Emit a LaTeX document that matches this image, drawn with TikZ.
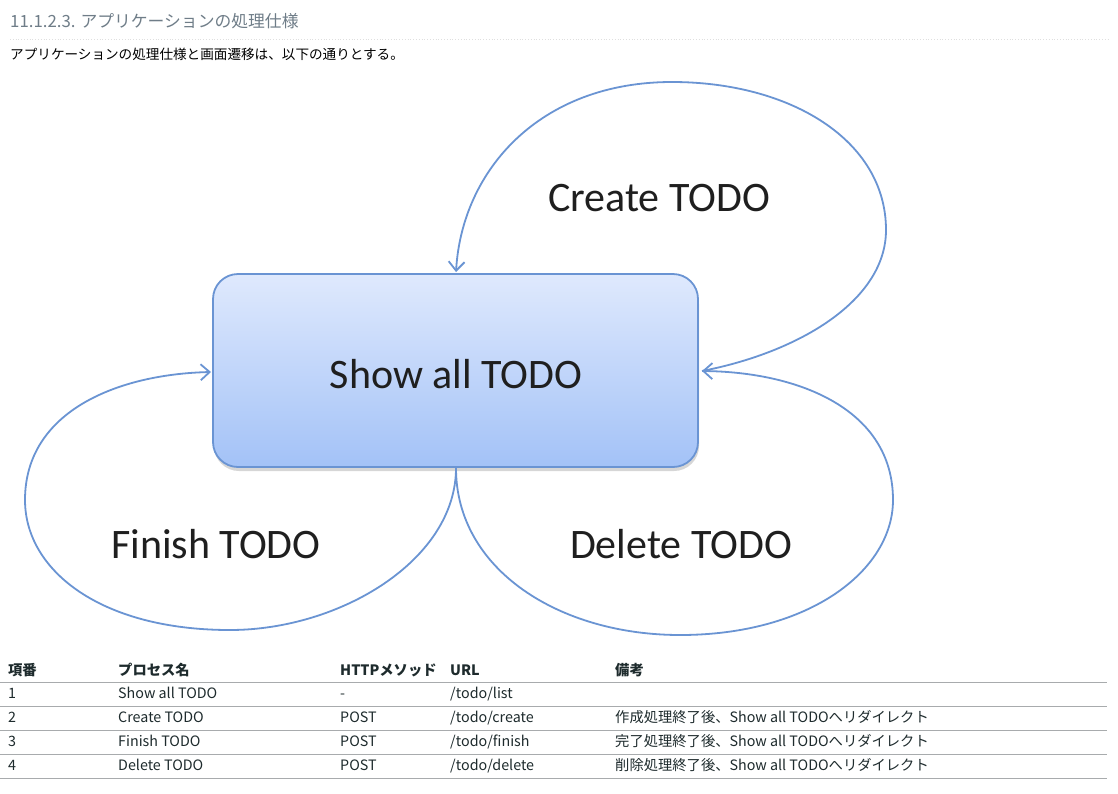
\documentclass[tikz,border=0pt]{standalone}
\usepackage{fontspec}
\setmainfont{Noto Sans CJK JP}
\newfontfamily\diagfont{Carlito}
\usetikzlibrary{arrows.meta}
\definecolor{loopblue}{HTML}{6A94D3}
\definecolor{boxtop}{HTML}{DFE9FD}
\definecolor{boxbottom}{HTML}{A3C2F7}
\definecolor{headgray}{HTML}{6F7D88}
\definecolor{celltext}{HTML}{1E2B2D}
\definecolor{rulegray}{HTML}{A8ABAD}

\begin{document}
\begin{tikzpicture}[x=1pt,y=-1pt,
  loop/.style={draw=loopblue,line width=1.8pt},
  tipped/.style={loop,-{Straight Barb[length=9pt,width=16pt]}},
  looplabel/.style={font=\diagfont\fontsize{42}{48}\selectfont,text=black!88,anchor=base,inner sep=0pt},
  cell/.style={font=\fontsize{14.3}{17}\selectfont,text=celltext,anchor=base west,inner sep=0pt},
  headcell/.style={cell,font=\bfseries\fontsize{14.3}{17}\selectfont}]
\useasboundingbox (0,0) rectangle (1118,793);
\fill[white] (0,0) rectangle (1118,793);
% Page heading and lead text
\node[anchor=base west,inner sep=0pt,text=headgray,font=\fontsize{16.8}{20}\selectfont] (title) at (10,27) {11.1.2.3. アプリケーションの処理仕様};
\draw[gray!25,dotted,line width=0.8pt] (10,39) -- (1108,39);
\node[anchor=base west,inner sep=0pt,font=\fontsize{13.6}{16}\selectfont] (lead) at (10,59) {アプリケーションの処理仕様と画面遷移は、以下の通りとする。};
% Drawing the central screen
\fill[black,opacity=0.16,rounded corners=25pt] (214,279) rectangle (699,471);
\shade[top color=boxtop,bottom color=boxbottom,rounded corners=25pt] (213,274) rectangle (698,467);
\draw[loopblue,line width=1.8pt,rounded corners=25pt] (213,274) rectangle (698,467);
\coordinate (showtop) at (456,272);
\coordinate (showright) at (702,371);
\coordinate (showleft) at (211,372);
\coordinate (showbottom) at (456,468);
\node[looplabel] (show) at (456,388) {Show all TODO};
% Drawing the transition loops
% Create TODO
\draw[tipped] (showright) .. controls (800,352) and (886,300) .. (886,230)
  .. controls (886,140) and (790,82) .. (672,82)
  .. controls (540,82) and (462,170) .. (showtop);
\node[looplabel] (create) at (659,211) {Create TODO};
% Finish TODO
\draw[tipped] (showbottom) .. controls (456,560) and (340,630) .. (230,630)
  .. controls (100,630) and (25,570) .. (25,500)
  .. controls (25,410) and (120,374) .. (showleft);
\node[looplabel] (finish) at (216,558) {Finish TODO};
% Delete TODO
\draw[tipped] (showbottom) .. controls (456,570) and (560,635) .. (680,635)
  .. controls (810,635) and (893,570) .. (893,500)
  .. controls (893,410) and (800,372) .. (showright);
\node[looplabel] (delete) at (681,558) {Delete TODO};
% Done with the diagram; drawing the table
\foreach \ry in {682,706,730,754,778}
  \draw[rulegray,line width=1pt] (0,\ry) -- (1107,\ry);
% header row
\node[headcell] (hno) at (8,675) {項番};
\node[headcell] (hname) at (118,675) {プロセス名};
\node[headcell] (hmethod) at (340,675) {HTTPメソッド};
\node[headcell] (hurl) at (450,675) {URL};
\node[headcell] (hnote) at (615,675) {備考};
% row 1
\node[cell] (noA) at (8,698) {1};
\node[cell] (nameA) at (118,698) {Show all TODO};
\node[cell] (methodA) at (340,698) {-};
\node[cell] (urlA) at (450,698) {/todo/list};
% row 2
\node[cell] (noB) at (8,722) {2};
\node[cell] (nameB) at (118,722) {Create TODO};
\node[cell] (methodB) at (340,722) {POST};
\node[cell] (urlB) at (450,722) {/todo/create};
\node[cell] (noteB) at (615,722) {作成処理終了後、Show all TODOへリダイレクト};
% row 3
\node[cell] (noC) at (8,746) {3};
\node[cell] (nameC) at (118,746) {Finish TODO};
\node[cell] (methodC) at (340,746) {POST};
\node[cell] (urlC) at (450,746) {/todo/finish};
\node[cell] (noteC) at (615,746) {完了処理終了後、Show all TODOへリダイレクト};
% row 4
\node[cell] (noD) at (8,770) {4};
\node[cell] (nameD) at (118,770) {Delete TODO};
\node[cell] (methodD) at (340,770) {POST};
\node[cell] (urlD) at (450,770) {/todo/delete};
\node[cell] (noteD) at (615,770) {削除処理終了後、Show all TODOへリダイレクト};
\end{tikzpicture}
\end{document}
